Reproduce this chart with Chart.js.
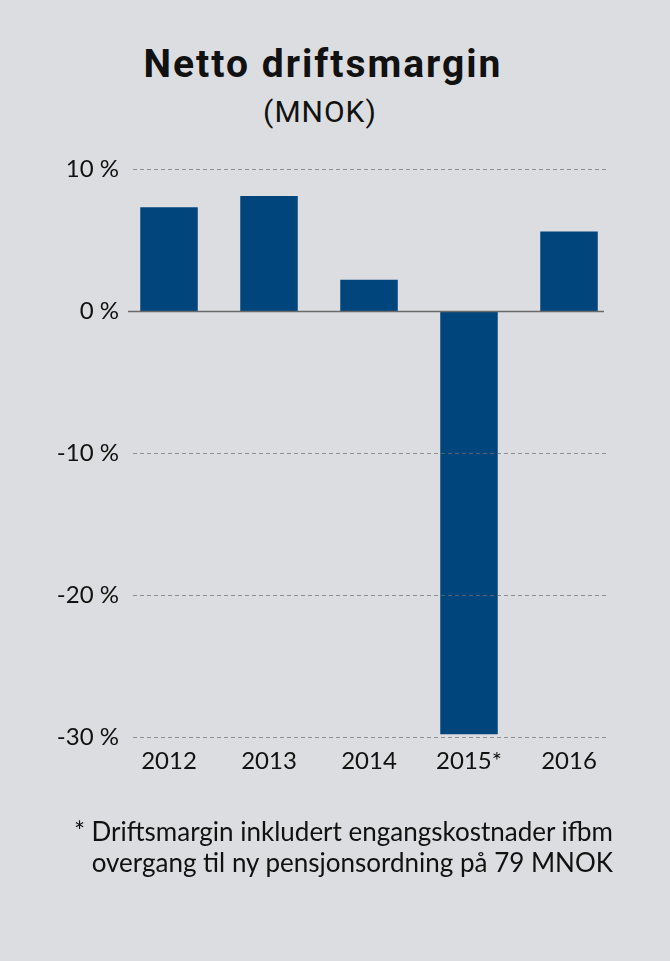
<!DOCTYPE html>
<html>
<head>
<meta charset="utf-8">
<script src="https://cdn.jsdelivr.net/npm/chart.js@4.4.1/dist/chart.umd.min.js"></script>
<style>
  html, body { margin: 0; padding: 0; background: #dcdde0; }
  body { width: 670px; height: 961px; position: relative; overflow: hidden; }
  #wrap { position: absolute; left: 0; top: 0; width: 670px; height: 961px; }
  .title { position: absolute; left: 0; width: 646px; text-align: center; color: #111; line-height: 1; white-space: nowrap; }
  #t1 { top: 45px; font-family: Roboto, sans-serif; font-weight: 700; font-size: 39px; letter-spacing: 2px; }
  #t2 { top: 97px; font-family: Roboto, sans-serif; font-weight: 400; font-size: 30px; letter-spacing: 1px; left: -3px; }
  #note { position: absolute; right: 57px; top: 816px; text-align: right; font-family: Lato, sans-serif; font-size: 26px; line-height: 31px; color: #111; white-space: nowrap; }
</style>
</head>
<body>
<div id="t1" class="title">Netto driftsmargin</div>
<div id="t2" class="title">(MNOK)</div>
<div id="wrap"><canvas id="c" width="670" height="961"></canvas></div>
<div id="note">* Driftsmargin inkludert engangskostnader ifbm<br>overgang til ny pensjonsordning på 79 MNOK</div>
<script>
const categories = ['2012', '2013', '2014', '2015*', '2016'];
const margins = [7.3, 8.1, 2.2, -29.8, 5.6];
const yTicks = [10, 0, -10, -20, -30];

const gridPlugin = {
  id: 'gridOverlay',
  afterDatasetsDraw(chart) {
    const ctx = chart.ctx, y = chart.scales.y, a = chart.chartArea;
    ctx.save();
    yTicks.forEach(v => {
      const py = Math.round(y.getPixelForValue(v)) + 0.5;
      ctx.beginPath();
      if (v === 0) {
        ctx.setLineDash([]);
        ctx.strokeStyle = '#6a6a6a';
        ctx.lineWidth = 1.5;
        ctx.moveTo(a.left + 9, py);
        ctx.lineTo(a.right - 15, py);
      } else {
        ctx.setLineDash([4, 3]);
        ctx.strokeStyle = 'rgba(110,110,110,0.7)';
        ctx.lineWidth = 1;
        ctx.moveTo(a.left + 14, py);
        ctx.lineTo(a.right - 12, py);
      }
      ctx.stroke();
    });
    ctx.restore();
  }
};

new Chart(document.getElementById('c'), {
  type: 'bar',
  data: {
    labels: categories,
    datasets: [{
      data: margins,
      backgroundColor: '#00457c',
      borderWidth: 0,
      barPercentage: 0.575,
      categoryPercentage: 1
    }]
  },
  options: {
    responsive: false,
    animation: false,
    devicePixelRatio: 1,
    layout: { padding: { top: 169, left: 10, right: 51, bottom: 164 } },
    plugins: { legend: { display: false }, tooltip: { enabled: false } },
    scales: {
      x: {
        grid: { display: false, drawTicks: false },
        border: { display: false },
        ticks: { color: '#111', font: { family: 'Lato', size: 24 }, padding: 10, maxRotation: 0 },
        afterFit(s) { s.height = 60; }
      },
      y: {
        min: -30, max: 10,
        afterBuildTicks(s) { s.ticks = yTicks.slice().reverse().map(v => ({ value: v })); },
        grid: { display: false, drawTicks: false },
        border: { display: false },
        ticks: { color: '#111', font: { family: 'Lato', size: 24 }, padding: 0, callback: v => v + ' %' },
        afterFit(s) { s.width = 109; }
      }
    }
  },
  plugins: [gridPlugin]
});
</script>
</body>
</html>
